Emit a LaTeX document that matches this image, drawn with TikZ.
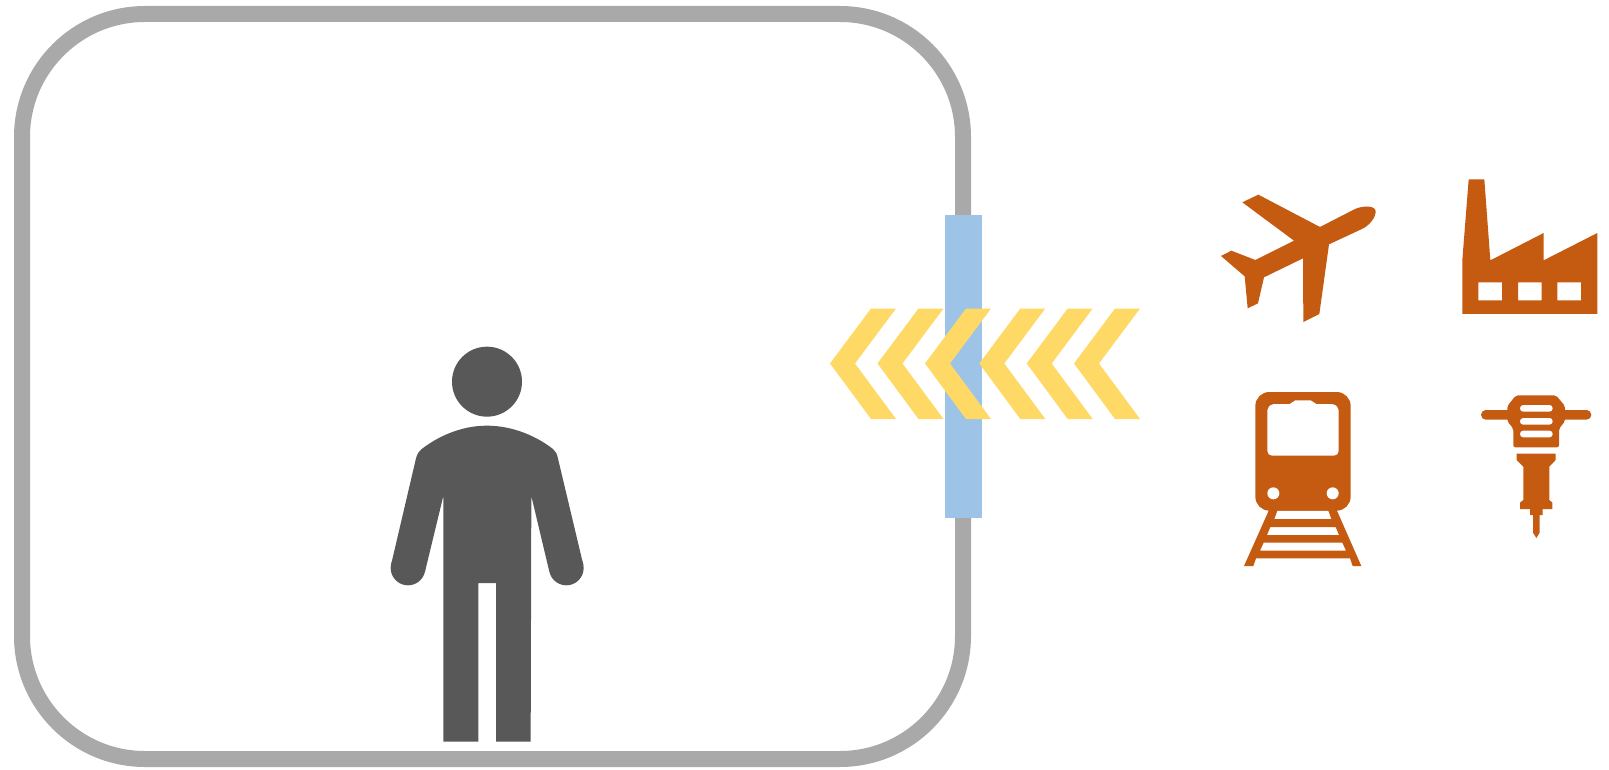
\documentclass[tikz,border=0pt]{standalone}
\usepackage{tikz}
\definecolor{FrameGray}{HTML}{A9A9A9}
\definecolor{PersonGray}{HTML}{585858}
\definecolor{BarBlue}{HTML}{9DC3E6}
\definecolor{ChevYellow}{HTML}{FFD966}
\definecolor{IconOrange}{HTML}{C55A11}

\begin{document}
\begin{tikzpicture}[x=1pt,y=-1pt,
 frame/.style={draw=FrameGray,line width=16pt,rounded corners=123pt},
 bar/.style={fill=BarBlue},
 chev/.style={fill=ChevYellow},
 person/.style={fill=PersonGray},
 icon/.style={fill=IconOrange,even odd rule},
 hole/.style={fill=white}]
\useasboundingbox (0,0) rectangle (1609,770);
\draw[frame] (22,14) rectangle (963,759);
\fill[bar] (945,215.5) rectangle (982,518);
\foreach \cx in {830,877.5,925,979.3,1026.7,1074}
  \fill[chev] (\cx,363.5) -- ++(41,-55) -- ++(25,0) -- ++(-41,55) -- ++(41,55.5) -- ++(-25,0) -- cycle;
\begin{scope}[shift={(380,340)},scale=1/3]
\fill[person] (321,125) circle (105);
\fill[person] (84,684) circle (52) (559,684) circle (52);
\fill[person] (190,468) -- (135,695) -- (33,675) -- (108,355)
  .. controls (112,342) and (116,334) .. (124,328) .. controls (170,292) and (240,257) .. (321,257)
  .. controls (402,257) and (475,292) .. (520,328) .. controls (528,334) and (531,342) .. (535,360)
  -- (610,675) -- (508,695)
  -- (454,468) -- (452,1205) -- (348,1205) -- (348,729) -- (295,729) -- (295,1205) -- (190,1205) -- cycle;
\end{scope}
\begin{scope}[shift={(1200,160)},scale=1/3]
\fill[icon] (127,127) -- (175,104) -- (360,201) -- (465,147) .. controls (490,136) and (527,136) .. (527,155)
  .. controls (527,175) and (505,197) .. (490,205) -- (387,253) -- (358,462) -- (310,486) -- (309,295)
  -- (192,352) -- (174,430) -- (143,445) -- (134,349) -- (63,288) -- (94,272) -- (166,300) -- (282,242) -- cycle;
\fill[icon] (806,58) -- (853,58) -- (871,301) -- (1031,219) -- (1031,301) -- (1192,219) -- (1192,462)
  -- (787,462) -- (787,300) -- cycle
  (835,367) rectangle (906,421) (954,367) rectangle (1025,421) (1072,367) rectangle (1143,421);
\end{scope}
\begin{scope}[shift={(1220,380)},scale=1/3]
\fill[icon,rounded corners=14pt] (106,36) rectangle (392,392);
\fill[hole,rounded corners=2pt] (150,227) -- (348,227) -- (356,219) -- (356,85) -- (343,72) -- (283,72) -- (278,61) -- (220,61) -- (215,72) -- (155,72) -- (142,85) -- (142,219) -- cycle;
\fill[hole] (160,340) circle (18) (338,340) circle (18);
\fill[icon] (147,390) -- (72,558) -- (100,558) -- (108,535) -- (390,535) -- (398,558) -- (424,558) -- (350,390) -- cycle
  (172,392) -- (325,392) -- (334,417) -- (163,417) -- cycle
  (151,441) -- (347,441) -- (357,465) -- (141,465) -- cycle
  (131,488) -- (367,488) -- (378,512) -- (120,512) -- cycle;
\fill[icon,rounded corners=4.8pt] (783,90) rectangle (1114,119);
\fill[icon,rounded corners=2pt] (888,46) -- (1008,46) -- (1035,78) -- (1035,124) -- (1017,146) -- (1017,202) -- (880,202) -- (880,146) -- (862,124) -- (862,78) -- cycle;
\fill[hole,rounded corners=3.2pt] (900,75) rectangle (998,95) (900,114) rectangle (998,134) (900,152) rectangle (998,172);
\fill[icon] (890,221) -- (1007,221) -- (1007,240) -- (988,260) -- (988,360) -- (997,368) -- (997,387) -- (968,387)
  -- (968,405) -- (959,405) -- (959,458) -- (949,474) -- (939,458) -- (939,405) -- (930,405) -- (930,387)
  -- (900,387) -- (900,368) -- (910,360) -- (910,260) -- (890,240) -- cycle;
\end{scope}
\end{tikzpicture}
\end{document}
